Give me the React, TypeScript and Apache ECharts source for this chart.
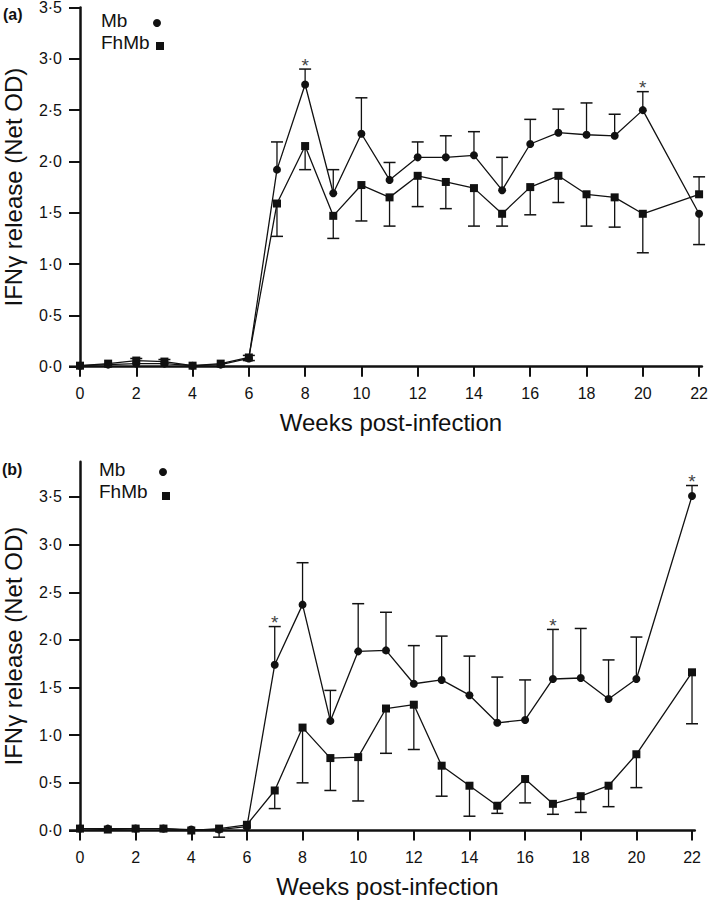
import React, { useEffect, useRef } from "react";
import * as echarts from "echarts";

const weeks = [0, 1, 2, 3, 4, 5, 6, 7, 8, 9, 10, 11, 12, 13, 14, 15, 16, 17, 18, 19, 20, 22];
const xTicks = [0, 2, 4, 6, 8, 10, 12, 14, 16, 18, 20, 22];
const yTicks = [0, 0.5, 1, 1.5, 2, 2.5, 3, 3.5];

// Panel (a)
const mbA = [0.01, 0.02, 0.03, 0.03, 0.01, 0.02, 0.08, 1.92, 2.75, 1.69, 2.27, 1.82, 2.04, 2.04, 2.06, 1.72, 2.17, 2.28, 2.26, 2.25, 2.5, 1.49];
const mbAErr = [null, null, 0.08, 0.07, null, null, 0.11, 2.19, 2.9, 1.92, 2.62, 1.99, 2.19, 2.25, 2.29, 2.04, 2.41, 2.51, 2.57, 2.46, 2.68, 1.19];
const fhA = [0.01, 0.03, 0.06, 0.05, 0.01, 0.03, 0.09, 1.59, 2.15, 1.47, 1.77, 1.65, 1.86, 1.8, 1.74, 1.49, 1.75, 1.86, 1.68, 1.65, 1.49, 1.68];
const fhAErr = [null, null, null, null, null, null, 0.06, 1.27, 1.92, 1.25, 1.42, 1.37, 1.56, 1.54, 1.37, 1.37, 1.48, 1.6, 1.37, 1.36, 1.11, 1.85];
const starsA = [8, 20];

// Panel (b)
const mbB = [0.02, 0.02, 0.02, 0.02, 0.01, 0.01, 0.04, 1.74, 2.37, 1.15, 1.88, 1.89, 1.54, 1.58, 1.42, 1.13, 1.16, 1.59, 1.6, 1.38, 1.59, 3.51];
const mbBErr = [null, null, null, null, null, null, null, 2.14, 2.81, 1.47, 2.38, 2.29, 1.94, 2.04, 1.83, 1.61, 1.58, 2.11, 2.12, 1.79, 2.03, 3.62];
const fhB = [0.02, 0.01, 0.02, 0.02, 0.0, 0.02, 0.06, 0.42, 1.08, 0.76, 0.77, 1.28, 1.32, 0.68, 0.47, 0.26, 0.54, 0.28, 0.36, 0.47, 0.8, 1.66];
const fhBErr = [null, null, null, null, null, -0.07, null, 0.23, 0.5, 0.42, 0.31, 0.81, 0.85, 0.36, 0.15, 0.18, 0.29, 0.17, 0.19, 0.25, 0.45, 1.12];
const starsB = [7, 17, 22];

const FONT = "'Liberation Sans', Arial, sans-serif";
const INK = "#111";

function pts(vals: number[]) {
  return weeks.map((w, i) => [w, vals[i]]);
}
function errPts(vals: number[], ends: (number | null)[]) {
  const out: number[][] = [];
  weeks.forEach((w, i) => {
    const e = ends[i];
    if (e !== null && e !== undefined) out.push([w, vals[i], e]);
  });
  return out;
}
function starPts(starWeeks: number[], ends: (number | null)[]) {
  return starWeeks.map((w) => [w, ends[weeks.indexOf(w)] as number]);
}

const errRender = (params: any, api: any) => {
  const x = api.value(0);
  const p1 = api.coord([x, api.value(1)]);
  const p2 = api.coord([x, api.value(2)]);
  const cw = 6;
  return {
    type: "group",
    children: [
      { type: "line", shape: { x1: p1[0], y1: p1[1], x2: p2[0], y2: p2[1] }, style: { stroke: INK, lineWidth: 1.3 } },
      { type: "line", shape: { x1: p2[0] - cw, y1: p2[1], x2: p2[0] + cw, y2: p2[1] }, style: { stroke: INK, lineWidth: 1.5 } },
    ],
  };
};

const starRender = (params: any, api: any) => {
  const p = api.coord([api.value(0), api.value(1)]);
  return {
    type: "text",
    x: p[0],
    y: p[1] - 4,
    style: { text: "*", fill: "#444", font: `19px ${FONT}`, align: "center", verticalAlign: "middle" },
  };
};

function lineSeries(name: string, vals: number[], idx: number, symbol: string) {
  return {
    name,
    type: "line",
    xAxisIndex: idx,
    yAxisIndex: idx,
    data: pts(vals),
    symbol,
    symbolSize: 8,
    showSymbol: true,
    lineStyle: { color: INK, width: 1.3 },
    itemStyle: { color: INK },
    z: 3,
  };
}

function errSeries(vals: number[], ends: (number | null)[], idx: number) {
  return {
    type: "custom",
    xAxisIndex: idx,
    yAxisIndex: idx,
    data: errPts(vals, ends),
    encode: { x: 0, y: [1, 2] },
    renderItem: errRender,
    clip: false,
    z: 2,
  };
}

function starSeries(starWeeks: number[], ends: (number | null)[], idx: number) {
  return {
    type: "custom",
    xAxisIndex: idx,
    yAxisIndex: idx,
    data: starPts(starWeeks, ends),
    encode: { x: 0, y: 1 },
    renderItem: starRender,
    clip: false,
    z: 4,
  };
}

const fmtY = (v: number) => v.toFixed(1).replace(".", "\u00b7");

function xAxisCfg(idx: number) {
  return {
    type: "value",
    gridIndex: idx,
    min: 0,
    max: 22.1,
    name: "Weeks post-infection",
    nameLocation: "middle",
    nameGap: 44,
    nameTextStyle: { fontFamily: FONT, fontSize: 24, color: INK },
    axisLine: { show: true, onZero: false, lineStyle: { color: INK, width: 2.5 } },
    axisTick: { show: true, customValues: xTicks, length: 10, lineStyle: { color: INK, width: 2 } },
    axisLabel: { customValues: xTicks, fontFamily: FONT, fontSize: 16, color: INK, margin: 19 },
    splitLine: { show: false },
  };
}

function yAxisCfg(idx: number, max: number) {
  return {
    type: "value",
    gridIndex: idx,
    min: 0,
    max,
    name: "IFN\u03b3 release (Net OD)",
    nameLocation: "middle",
    nameGap: 55,
    nameTextStyle: { fontFamily: FONT, fontSize: 24, color: INK },
    axisLine: { show: true, onZero: false, lineStyle: { color: INK, width: 2.5 } },
    axisTick: { show: true, customValues: yTicks, length: 11, lineStyle: { color: INK, width: 2 } },
    axisLabel: { customValues: yTicks, fontFamily: FONT, fontSize: 16, color: INK, margin: 18, formatter: fmtY },
    splitLine: { show: false },
  };
}

function legendGraphics(mbY: number, fhY: number, textX: number, circX: number, sqX: number, sqY: number) {
  return [
    { type: "text", left: textX, top: mbY - 11, style: { text: "Mb", font: `19px ${FONT}`, fill: INK } },
    { type: "text", left: textX, top: fhY - 11, style: { text: "FhMb", font: `19px ${FONT}`, fill: INK } },
    { type: "circle", shape: { cx: circX, cy: mbY + 1, r: 4 }, style: { fill: INK } },
    { type: "rect", shape: { x: sqX - 4, y: sqY - 4, width: 8, height: 8 }, style: { fill: INK } },
  ];
}

export default function App() {
  const ref = useRef<HTMLDivElement>(null);
  useEffect(() => {
    if (!ref.current) return;
    const chart = echarts.init(ref.current, null, { renderer: "svg" });
    chart.setOption({
      animation: false,
      backgroundColor: "#fff",
      grid: [
        { left: 80, right: 7.1, top: 7.5, bottom: 533.3, containLabel: false, outerBoundsMode: "none" },
        { left: 80, right: 14.2, top: 461.7, bottom: 69.5, containLabel: false, outerBoundsMode: "none" },
      ],
      xAxis: [xAxisCfg(0), xAxisCfg(1)],
      yAxis: [yAxisCfg(0, 3.5), yAxisCfg(1, 3.87)],
      series: [
        errSeries(mbA, mbAErr, 0),
        errSeries(fhA, fhAErr, 0),
        lineSeries("Mb", mbA, 0, "circle"),
        lineSeries("FhMb", fhA, 0, "rect"),
        starSeries(starsA, mbAErr, 0),
        errSeries(mbB, mbBErr, 1),
        errSeries(fhB, fhBErr, 1),
        lineSeries("Mb", mbB, 1, "circle"),
        lineSeries("FhMb", fhB, 1, "rect"),
        starSeries(starsB, mbBErr, 1),
      ],
      graphic: [
        { type: "text", left: 3, top: 6, style: { text: "(a)", font: `bold 16px ${FONT}`, fill: INK } },
        { type: "text", left: 2, top: 461, style: { text: "(b)", font: `bold 16px ${FONT}`, fill: INK } },
        { type: "line", shape: { x1: 69, y1: 366.7, x2: 81, y2: 366.7 }, style: { stroke: INK, lineWidth: 2.5 } },
        { type: "line", shape: { x1: 69, y1: 830.5, x2: 81, y2: 830.5 }, style: { stroke: INK, lineWidth: 2.5 } },
        ...legendGraphics(22, 44, 101, 157, 160, 46),
        ...legendGraphics(471, 493, 99, 163, 166, 496),
      ],
    });
    return () => chart.dispose();
  }, []);
  return <div ref={ref} style={{ position: "absolute", left: 0, top: 0, width: 709, height: 900 }} />;
}
